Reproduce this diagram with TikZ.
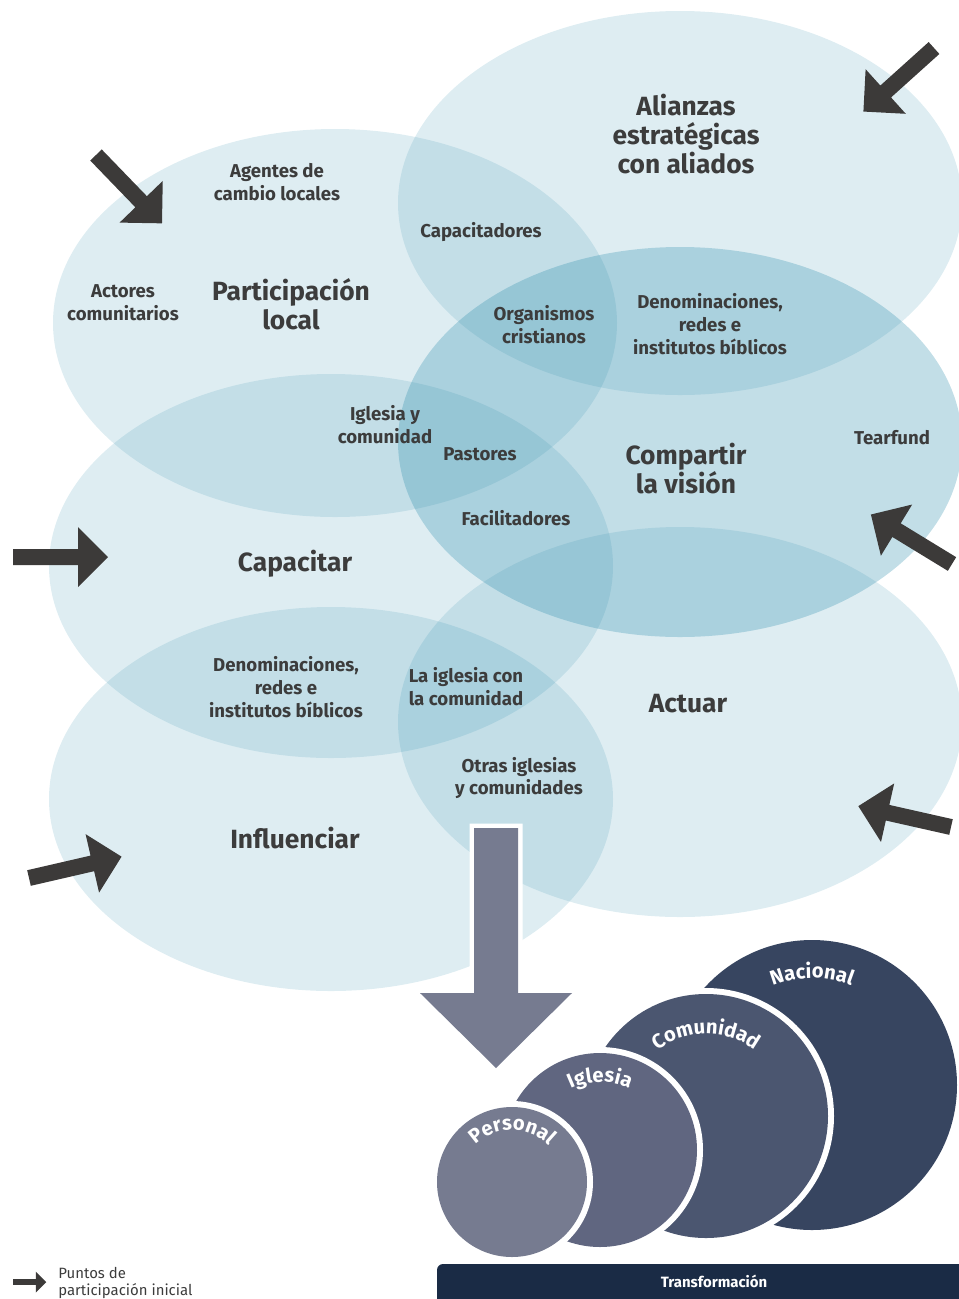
\documentclass[tikz,border=0pt]{standalone}
\usepackage{fontspec}
\setmainfont{Fira Sans}
\usetikzlibrary{calc,decorations.text}
\definecolor{ellblue}{RGB}{35,135,168}
\definecolor{txtgray}{RGB}{60,60,60}
\definecolor{arrdark}{RGB}{60,58,57}
\definecolor{bigarr}{RGB}{118,123,144}
\definecolor{cpers}{RGB}{118,123,144}
\definecolor{cigl}{RGB}{96,102,128}
\definecolor{ccom}{RGB}{75,86,112}
\definecolor{cnac}{RGB}{55,69,96}
\definecolor{cbar}{RGB}{26,43,69}
\begin{document}
\begin{tikzpicture}[x=0.02cm, y=-0.02cm,
  blob/.style={fill=ellblue, fill opacity=0.15},
  blobdark/.style={fill=ellblue, fill opacity=0.28},
  lbl/.style={text=txtgray, font=\bfseries\fontsize{10.6}{13}\selectfont, align=center, inner sep=0pt},
  ttl/.style={text=txtgray, font=\bfseries\fontsize{15}{16.5}\selectfont, align=center, inner sep=0pt},
  entry/.pic={\fill[arrdark] (0,-8) -- (65,-8) -- (65,-30) -- (95,0) -- (65,30) -- (65,8) -- (0,8) -- cycle;},
  ring/.style={preaction={draw=white, line width=0.24cm}},
  arctext/.style={decorate, decoration={text along path, text align=center, text color=white, text={|\bfseries\fontsize{11.5}{12}\selectfont|#1}}}
]
\useasboundingbox (0,0) rectangle (958,1299);

% ellipses
\fill[blob] (335,323) ellipse[x radius=282, y radius=194];
\fill[blob] (331,566) ellipse[x radius=282, y radius=192];
\fill[blob] (331,799) ellipse[x radius=282, y radius=192];
\fill[blob] (680,203) ellipse[x radius=282, y radius=192];
\fill[blobdark] (680,442) ellipse[x radius=282, y radius=195];
\fill[blob] (680,722) ellipse[x radius=282, y radius=195];

% entry arrows
\pic[rotate=-46] (a1) at (96,155) {entry};
\pic[rotate=-138] (a2) at (934,48) {entry};
\pic (a3) at (13,557) {entry};
\pic[rotate=13] (a4) at (29,878) {entry};
\pic[rotate=148.6] (a5) at (952,564) {entry};
\pic[rotate=167.3] (a6) at (951,827) {entry};

% labels
\node[ttl] (alianzas) at (686,134) {Alianzas\\estratégicas\\con aliados};
\node[lbl] (agentes) at (277,182) {Agentes de\\cambio locales};
\node[lbl] (actores) at (123,303) {Actores\\comunitarios};
\node[ttl] (particip) at (291,304) {Participación\\local};
\node[lbl] (capacitadores) at (481,232) {Capacitadores};
\node[lbl] (organismos) at (544,325) {Organismos\\cristianos};
\node[lbl] (denom1) at (710,324) {Denominaciones,\\redes e\\institutos bíblicos};
\node[lbl] (iglesiay) at (385,425) {Iglesia y\\comunidad};
\node[lbl] (pastores) at (480,454) {Pastores};
\node[ttl] (compartir) at (686,469) {Compartir\\la visión};
\node[lbl] (tearfund) at (892,438) {Tearfund};
\node[lbl] (facilit) at (516,518) {Facilitadores};
\node[ttl] (capacitar) at (295,564) {Capacitar};
\node[lbl] (denom2) at (286,687) {Denominaciones,\\redes e\\institutos bíblicos};
\node[lbl] (laiglesia) at (466,687) {La iglesia con\\la comunidad};
\node[ttl] (actuar) at (688,704) {Actuar};
\node[lbl] (otras) at (519,778) {Otras iglesias\\y comunidades};
\node[ttl] (influenciar) at (295,838) {Influenciar};

% big arrow
\path[fill=bigarr, preaction={draw=white, line width=0.18cm}] (474,828) -- (518,828) -- (518,993) -- (572,993) -- (496,1068) -- (420,993) -- (474,993) -- cycle;

% circles
\coordinate (cnacC) at (812,1085);
\coordinate (ccomC) at (706,1116);
\coordinate (ciglC) at (600,1150);
\coordinate (cperC) at (512,1182);
\fill[cnac, ring] (cnacC) circle[radius=145];
\fill[ccom, ring] (ccomC) circle[radius=122];
\fill[cigl, ring] (ciglC) circle[radius=97];
\fill[cpers, ring] (cperC) circle[radius=75];
\path[arctext=Nacional] ($(cnacC)+(-165:107)$) arc[start angle=-165, end angle=-15, radius=107];
\path[arctext=Comunidad] ($(ccomC)+(-170:82)$) arc[start angle=-170, end angle=-10, radius=82];
\path[arctext=Iglesia] ($(ciglC)+(-170:68)$) arc[start angle=-170, end angle=-10, radius=68];
\path[arctext=Personal] ($(cperC)+(-175:52)$) arc[start angle=-175, end angle=-5, radius=52];

% bar
\fill[cbar, rounded corners=0.12cm] (437,1264) rectangle (980,1330);
\node[text=white, font=\bfseries\fontsize{8.5}{10}\selectfont] (transf) at (714,1281) {Transformación};

% legend
\pic[scale=0.35] (leg) at (13,1282) {entry};
\node[anchor=west, align=left, text=txtgray, inner sep=0pt, font=\fontsize{8.5}{9.8}\selectfont] (legtext) at (58,1283) {Puntos de\\participación inicial};
\end{tikzpicture}
\end{document}
